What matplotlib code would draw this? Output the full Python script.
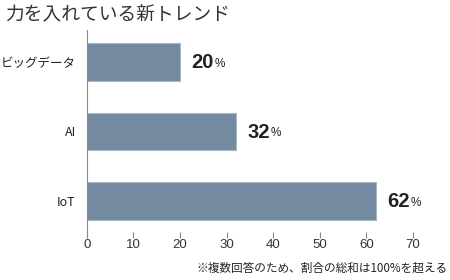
import matplotlib

matplotlib.use("Agg")
import matplotlib.pyplot as plt

plt.rcParams["font.family"] = ["Noto Sans CJK JP", "DejaVu Sans"]

# データ
categories = ["ビッグデータ", "AI", "IoT"]
values = [20, 32, 62]
xticks = [0, 10, 20, 30, 40, 50, 60, 70]

TITLE = "力を入れている新トレンド"
NOTE = "※複数回答のため、割合の総和は100%を超える"

BAR_COLOR = "#738aa1"
EDGE_COLOR = "#a9b8c6"
TEXT_COLOR = "#222222"
AXIS_COLOR = "#888888"
LATIN = ["Liberation Sans", "DejaVu Sans"]

fig = plt.figure(figsize=(4.5, 2.8), dpi=100)
ax = fig.add_axes([0.193, 0.171, 0.725, 0.722])

ax.barh(range(len(categories)), values, height=0.54, color=BAR_COLOR,
        edgecolor=EDGE_COLOR, linewidth=0.8)

for i, v in enumerate(values):
    t = ax.annotate(f"{v}", xy=(v, i), xytext=(8, -0.5), textcoords="offset points",
                    ha="left", va="center", fontsize=14.5, fontweight="bold",
                    family=LATIN, color=TEXT_COLOR)
    ax.annotate("%", xy=(1, 0), xycoords=t, xytext=(1, 1.5),
                textcoords="offset points", ha="left", va="bottom",
                fontsize=8.5, family=LATIN, color=TEXT_COLOR)

ax.set_xlim(0, 70)
ax.set_ylim(2.45, -0.46)
ax.set_xticks(xticks)
ax.set_xticklabels([str(x) for x in xticks], fontsize=9.5,
                   family=LATIN, color="#333333")
ax.set_yticks(range(len(categories)))
ax.set_yticklabels(categories, fontsize=9, color=TEXT_COLOR)
ax.tick_params(axis="y", length=0, pad=8)
ax.tick_params(axis="x", length=4, color=AXIS_COLOR, width=0.8, pad=1)

for s in ("top", "right", "bottom"):
    ax.spines[s].set_visible(False)
ax.spines["left"].set_color(AXIS_COLOR)
ax.spines["left"].set_linewidth(0.8)

fig.text(5 / 450, 1 - 15 / 280, TITLE, fontsize=13.5, color="#333333",
         ha="left", va="center")
fig.text(447 / 450, 1 - 268 / 280, NOTE, fontsize=8.4, color=TEXT_COLOR,
         ha="right", va="center")

fig.savefig("out.png", dpi=100)
